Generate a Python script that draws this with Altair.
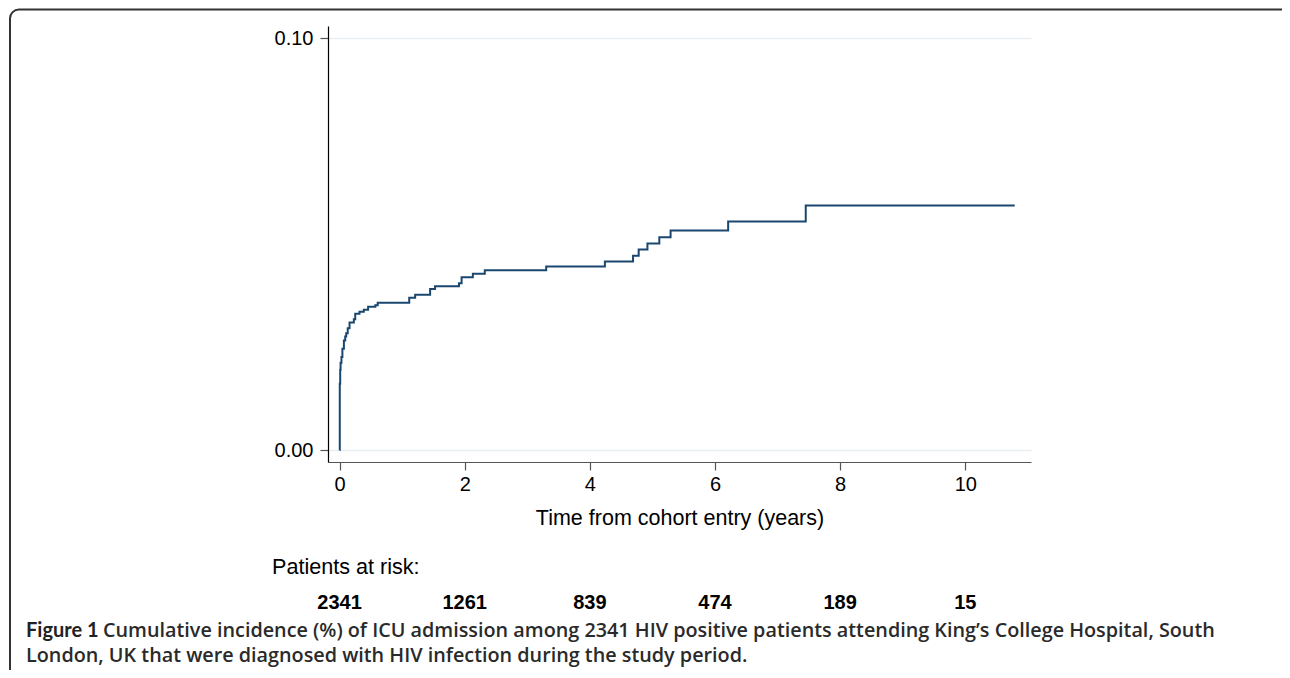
import altair as alt
import pandas as pd

# Cumulative incidence step curve
times = [0, 0.003, 0.010, 0.016, 0.030, 0.045, 0.069, 0.090, 0.106, 0.130, 0.159,
         0.228, 0.250, 0.318, 0.387, 0.456, 0.572, 0.609, 1.113, 1.208, 1.447,
         1.526, 1.908, 1.950, 2.130, 2.321, 3.302, 4.240, 4.690, 4.780, 4.920,
         5.110, 5.290, 6.210, 7.450, 10.79]
incidence = [0, 0.0161, 0.0195, 0.0212, 0.0226, 0.0246, 0.0266, 0.0276, 0.0284, 0.0296, 0.0310,
             0.0318, 0.0331, 0.0336, 0.0341, 0.0348, 0.0352, 0.0358, 0.0370, 0.0377, 0.0391,
             0.0398, 0.0405, 0.0420, 0.0428, 0.0437, 0.0446, 0.0458, 0.0472, 0.0487, 0.0502,
             0.0517, 0.0533, 0.0555, 0.0594, 0.0594]

risk_times = [0, 2, 4, 6, 8, 10]
risk_counts = ["2341", "1261", "839", "474", "189", "15"]

x_ticks = [0, 2, 4, 6, 8, 10]
y_ticks = [0.0, 0.10]

x_title = "Time from cohort entry (years)"
risk_label = "Patients at risk:"
caption_bold = "Figure 1"
caption_line1 = "Cumulative incidence (%) of ICU admission among 2341 HIV positive patients attending King\u2019s College Hospital, South"
caption_line2 = "London, UK that were diagnosed with HIV infection during the study period."

FONT = "Liberation Sans"
CAP_FONT = "Open Sans"

curve = pd.DataFrame({"t": times, "v": incidence})
risk = pd.DataFrame({"t": risk_times, "n": risk_counts})

xscale = alt.Scale(domain=[-0.185, 11.05], nice=False, zero=False)
yscale = alt.Scale(domain=[-0.0029, 0.103], nice=False, zero=False)

line = alt.Chart(curve).mark_line(
    interpolate="step-after", color="#1a476f", strokeWidth=2
).encode(
    x=alt.X("t:Q", scale=xscale,
            axis=alt.Axis(values=x_ticks, format="d", title=x_title, grid=False,
                          labelFont=FONT, labelFontSize=20, labelColor="#000",
                          titleFont=FONT, titleFontSize=21.5, titleFontWeight="normal",
                          titleColor="#000", tickSize=8, tickColor="#555",
                          domainColor="#555", domainWidth=1.2, tickWidth=1.2,
                          labelPadding=4, titlePadding=13, labelFlush=False)),
    y=alt.Y("v:Q", scale=yscale,
            axis=alt.Axis(values=y_ticks, format=".2f", title=None, grid=True,
                          gridColor="#e8eff3", gridWidth=1.5,
                          labelFont=FONT, labelFontSize=20, labelColor="#000",
                          tickSize=8, tickColor="#555", domainColor="#000",
                          domainWidth=1.2, tickWidth=1.2, labelPadding=7)),
)

risk_text = alt.Chart(risk).mark_text(
    font=FONT, fontSize=20, fontWeight="bold", color="#000", baseline="middle"
).encode(x=alt.X("t:Q", scale=xscale), y=alt.value(577), text="n:N")

one = pd.DataFrame({"a": [0]})

risk_lab = alt.Chart(one).mark_text(
    text=risk_label, font=FONT, fontSize=21.6, color="#000", align="left", baseline="middle"
).encode(x=alt.value(-56), y=alt.value(541.5))

cap_b = alt.Chart(one).mark_text(
    text=caption_bold, font="Lato", fontSize=20, fontWeight="bold", color="#222",
    align="left", baseline="middle"
).encode(x=alt.value(-302), y=alt.value(605))

cap_1 = alt.Chart(one).mark_text(
    text=caption_line1, font=CAP_FONT, fontSize=19.8, fontWeight=600, color="#2a2a2a",
    align="left", baseline="middle"
).encode(x=alt.value(-225), y=alt.value(605))

cap_2 = alt.Chart(one).mark_text(
    text=caption_line2, font=CAP_FONT, fontSize=19.8, fontWeight=600, color="#2a2a2a",
    align="left", baseline="middle"
).encode(x=alt.value(-302), y=alt.value(630))

frame = alt.Chart(one).mark_rect(
    fillOpacity=0, stroke="#333", strokeWidth=2, cornerRadius=9
).encode(x=alt.value(-318), x2=alt.value(1200), y=alt.value(-16.5), y2=alt.value(1000))

chart = alt.layer(frame, line, risk_text, risk_lab, cap_b, cap_1, cap_2).properties(
    width=703, height=436,
    autosize=alt.AutoSizeParams(type="none"),
    padding={"left": 320, "top": 18, "right": 251, "bottom": 208},
).configure(background="white").configure_view(strokeWidth=0)

chart.save("out.html", embed_options={"renderer": "svg", "actions": False})
